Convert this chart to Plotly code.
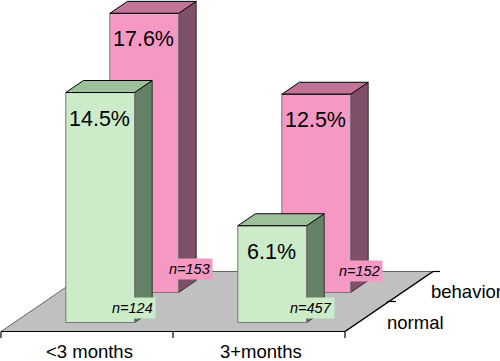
import plotly.graph_objects as go

categories = ["<3 months", "3+months"]
series = ["normal", "behavior"]
normal_values = [14.5, 6.1]
behavior_values = [17.6, 12.5]
normal_n = ["n=124", "n=457"]
behavior_n = ["n=153", "n=152"]

# oblique projection of (category, depth, value) to the pixel-sized axes
X0, Y0 = 1.0, 331.5
CAT_W, DEPTH_X, DEPTH_Y, V_SCALE = 172.0, 44.0, 30.0, 15.86
BAR = 0.4


def P(c, d, v=0.0):
    return (X0 + c * CAT_W + d * DEPTH_X, Y0 - d * DEPTH_Y - v * V_SCALE)


FONT = "Liberation Sans, Arial, sans-serif"
STYLES = {
    "normal": dict(front="#CCEBC8", side="#658266", top="#9CC09A"),
    "behavior": dict(front="#F598C4", side="#804F68", top="#C27398"),
}
fig = go.Figure()


def poly(pts, fill, line="#222222", width=1.0):
    xs = [p[0] for p in pts] + [pts[0][0]]
    ys = [p[1] for p in pts] + [pts[0][1]]
    fig.add_trace(go.Scatter(x=xs, y=ys, mode="lines", fill="toself", fillcolor=fill,
                             line=dict(color=line, width=width), hoverinfo="skip"))


def seg(a, b, color="#000000", width=1.2):
    fig.add_trace(go.Scatter(x=[a[0], b[0]], y=[a[1], b[1]], mode="lines",
                             line=dict(color=color, width=width), hoverinfo="skip"))


# floor
poly([P(0, 0), P(2, 0), P(2, 2), P(0, 2)], "#C0C0C0", "#444444", 0.8)
seg(P(0, 0), P(2, 0))
seg(P(2, 0), P(2, 2), width=1.5)

annots = []


def bar(c, d, v, st):
    c0, c1 = c - BAR / 2, c + BAR / 2
    d0, d1 = d - BAR / 2, d + BAR / 2
    poly([P(c1, d0, 0), P(c1, d1, 0), P(c1, d1, v), P(c1, d0, v)], st["side"], "#333333")
    poly([P(c0, d0, v), P(c1, d0, v), P(c1, d1, v), P(c0, d1, v)], st["top"], "#000000")
    poly([P(c0, d0, 0), P(c1, d0, 0), P(c1, d0, v), P(c0, d0, v)], st["front"], "#777777")
    seg(P(c0, d0, v), P(c1, d0, v), width=1.0)


rows = [("behavior", 1.5, behavior_values, behavior_n), ("normal", 0.5, normal_values, normal_n)]
for name, depth, vals, ns in rows:
    for i, v in enumerate(vals):
        bar(i + 0.5, depth, v, STYLES[name])

# value labels
for name, depth, vals, ns in rows:
    for i, v in enumerate(vals):
        x, y = P(i + 0.5, depth - BAR / 2, v)
        annots.append(dict(x=x - 0.5, y=y + 26, text=f"{v}%", showarrow=False,
                           font=dict(size=21.5, color="#000000", family=FONT)))

# sample-size labels
n_offsets = {"normal": [(-2.0, -15.0), (4.0, -15.0)], "behavior": [(11.0, -24.0), (9.0, -22.0)]}
for name, depth, vals, ns in rows:
    for i, n in enumerate(ns):
        x, y = P(i + 0.5 + BAR / 2, depth - BAR / 2)
        ox, oy = n_offsets[name][i]
        annots.append(dict(x=x + ox, y=y + oy, text=f"<i>{n}</i>", showarrow=False,
                           bgcolor=STYLES[name]["front"], borderpad=2,
                           font=dict(size=14.5, color="#000000", family=FONT)))

# front-axis ticks and labels
for c in range(3):
    a = P(c, 0)
    seg(a, (a[0], a[1] + 6.5))
for i, lab in enumerate(categories):
    x, y = P(i + 0.5, 0)
    annots.append(dict(x=x + 2, y=y + 19.5, text=lab, showarrow=False,
                       font=dict(size=18.5, color="#000000", family=FONT)))

# depth-axis ticks and labels
for d, back in ((1, 2), (2, 0)):
    a = P(2, d)
    seg((a[0] - back, a[1]), (a[0] + 7, a[1]))
for name, d, dx, dy in (("normal", 0.5, 48.0, 6.0), ("behavior", 1.5, 55.0, 5.0)):
    x, y = P(2, d)
    annots.append(dict(x=x + dx, y=y + dy, text=name, showarrow=False,
                       font=dict(size=18.5, color="#000000", family=FONT)))

fig.update_layout(
    width=500, height=361, margin=dict(l=0, r=0, t=0, b=0), showlegend=False,
    paper_bgcolor="white", plot_bgcolor="white", annotations=annots,
    xaxis=dict(range=[0, 500], visible=False, fixedrange=True),
    yaxis=dict(range=[361, 0], visible=False, fixedrange=True),
)
fig.write_html("out.html", config=dict(displayModeBar=False),
               post_script="document.body.style.margin='0';document.body.style.overflow='hidden';")
